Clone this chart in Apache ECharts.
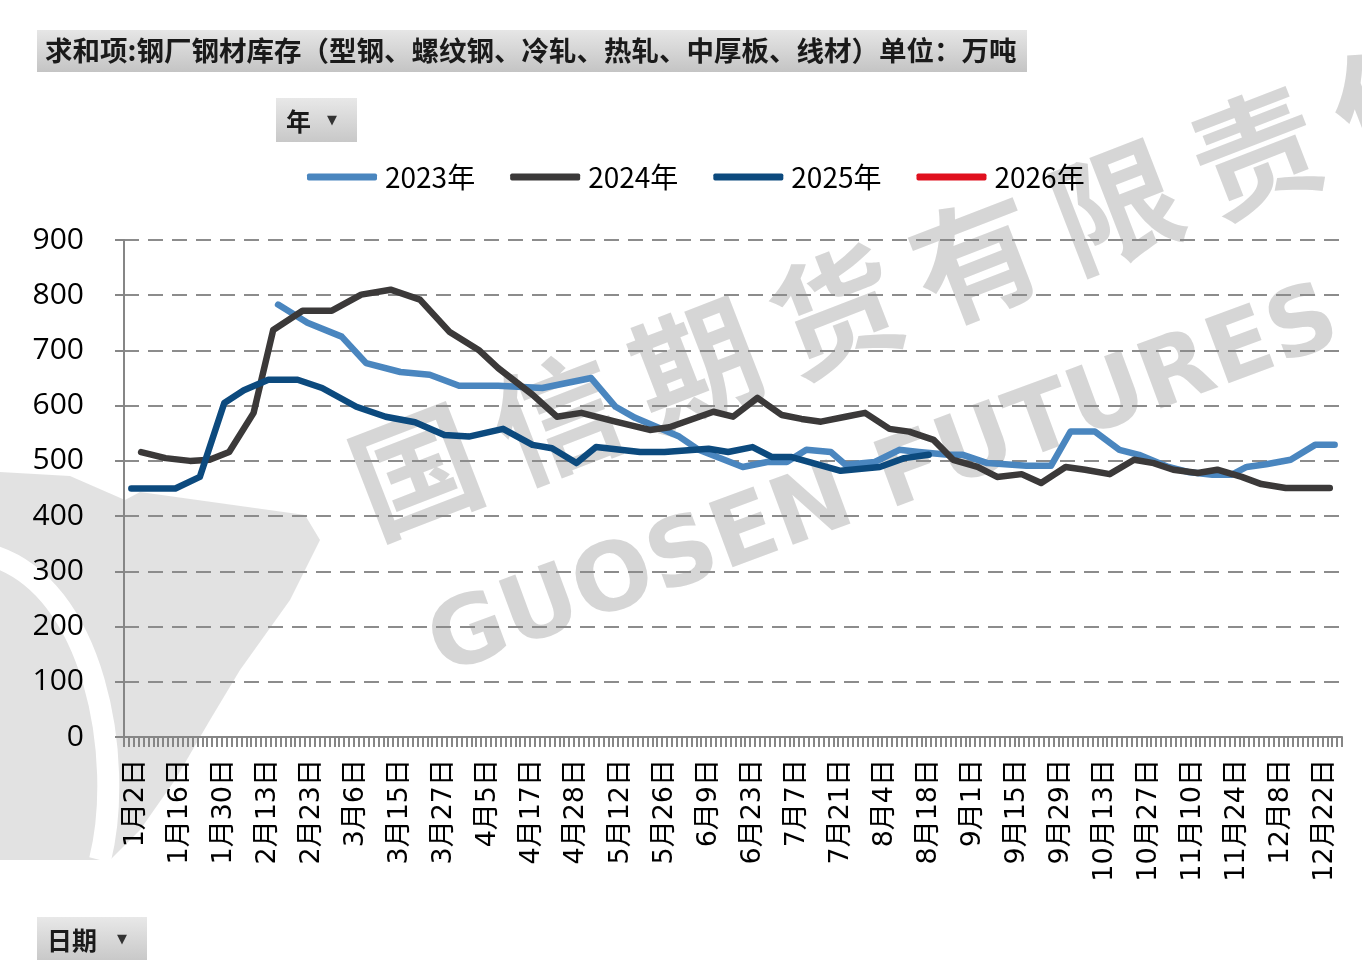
<!DOCTYPE html>
<html>
<head>
<meta charset="utf-8">
<title>钢厂钢材库存</title>
<script src="https://cdn.jsdelivr.net/npm/echarts@6/dist/echarts.min.js"></script>
<style>
  html, body { margin: 0; padding: 0; background: #fff; }
  #my_chart { width: 1362px; height: 960px; }
</style>
</head>
<body>
<div id="my_chart"></div>
<script>
// 横轴：每 9 个日期显示一个标签，前面还有 2 个未标注的日期
var dateLabels = ['1月2日', '1月16日', '1月30日', '2月13日', '2月23日', '3月6日', '3月15日', '3月27日',
    '4月5日', '4月17日', '4月28日', '5月12日', '5月26日', '6月9日', '6月23日', '7月7日', '7月21日',
    '8月4日', '8月18日', '9月1日', '9月15日', '9月29日', '10月13日', '10月27日', '11月10日',
    '11月24日', '12月8日', '12月22日'];
var catCount = 249;
var labelStart = 2;
var labelStep = 9;

var yTicks = [0, 100, 200, 300, 400, 500, 600, 700, 800, 900];
var seriesNames = ['2023年', '2024年', '2025年', '2026年'];

// [日期序号, 万吨]
var data2023 = [[31, 783], [37, 750], [44, 725], [49, 677], [56, 661], [62, 656], [68, 636], [76, 636],
    [85, 632], [95, 650], [100, 598], [104, 578], [113, 544], [117, 520], [126, 489], [131, 498],
    [135, 498], [139, 520], [144, 516], [147, 493], [153, 498], [158, 520], [162, 516], [168, 511],
    [171, 511], [176, 496], [184, 491], [189, 491], [193, 553], [198, 553], [203, 520], [207, 511],
    [213, 489], [217, 480], [222, 475], [226, 475], [229, 489], [233, 494], [238, 502], [243, 529],
    [247, 529]];
var data2024 = [[3, 516], [8, 505], [13, 500], [17, 502], [21, 516], [26, 587], [30, 737], [36, 772],
    [42, 772], [48, 801], [54, 810], [60, 792], [66, 734], [72, 701], [76, 668], [83, 620], [88, 580],
    [93, 587], [100, 571], [107, 556], [111, 561], [120, 589], [124, 580], [129, 614], [134, 583],
    [138, 576], [142, 571], [147, 580], [151, 587], [156, 558], [160, 553], [165, 538], [169, 502],
    [174, 489], [178, 471], [183, 476], [187, 460], [192, 489], [196, 484], [201, 476], [206, 502],
    [210, 496], [214, 484], [219, 478], [223, 484], [228, 471], [232, 458], [237, 451], [241, 451],
    [246, 451]];
var data2025 = [[1, 450], [5, 450], [10, 450], [15, 471], [20, 605], [24, 628], [29, 647], [35, 647],
    [40, 632], [47, 598], [53, 580], [59, 570], [65, 547], [70, 544], [77, 558], [83, 529], [87, 523],
    [92, 496], [96, 525], [105, 516], [110, 516], [119, 522], [123, 516], [128, 525], [132, 507],
    [136, 507], [146, 482], [154, 489], [159, 505], [164, 511]];
var data2026 = [];

var seriesColors = ['#4a86bf', '#3b3939', '#0c4a7e', '#e0101e'];
var markText = '国信期货有限责任';

(function () {
    var cats = [];
    for (var i = 0; i < catCount; i++) {
        cats.push('');
    }
    for (var k = 0; k < dateLabels.length; k++) {
        cats[labelStart + k * labelStep] = dateLabels[k];
    }

    var allData = [data2023, data2024, data2025, data2026];
    var series = [];
    for (var s = 0; s < seriesNames.length; s++) {
        series.push({
            name: seriesNames[s],
            type: 'line',
            data: allData[s],
            showSymbol: false,
            symbol: 'none',
            smooth: false,
            lineStyle: { width: 6.5, color: seriesColors[s], cap: 'round', join: 'round' },
            itemStyle: { color: seriesColors[s] },
            z: 3 + s
        });
    }

    var markFill = 'rgba(140,140,140,0.36)';
    // 背景水印、左下角标志
    var graphic = [
        {
            type: 'polygon', z: -20, silent: true,
            shape: {
                points: [[0, 472], [70, 476], [125, 500], [140, 492], [305, 515], [320, 540], [290, 600],
                    [240, 670], [210, 720], [175, 780], [140, 830], [110, 860], [0, 860]]
            },
            style: { fill: 'rgba(140,140,140,0.25)' }
        },
        {
            type: 'bezierCurve', z: -19, silent: true,
            shape: { x1: -10, y1: 555, cpx1: 95, cpy1: 585, cpx2: 125, cpy2: 760, x2: 100, y2: 860 },
            style: { fill: null, stroke: '#ffffff', lineWidth: 22 }
        },
        {
            type: 'text', x: 450, y: 696, rotation: 0.355, z: -10, silent: true,
            style: {
                text: 'GUOSEN FUTURES', fill: markFill,
                font: 'bold 94px "DejaVu Sans"', textVerticalAlign: 'bottom'
            }
        }
    ];
    for (var c = 0; c < markText.length; c++) {
        graphic.push({
            type: 'text', x: 380 + c * 140, y: 552 - c * 53, rotation: 0.37, z: -10, silent: true,
            style: {
                text: markText.charAt(c), fill: markFill,
                font: 'bold 126px "Noto Sans CJK SC"', textVerticalAlign: 'bottom'
            }
        });
    }
    graphic.push(
        // 标题框
        {
            type: 'rect', x: 37, y: 30, z: 10,
            shape: { width: 990, height: 42 },
            style: {
                fill: new echarts.graphic.LinearGradient(0, 0, 0, 1, [
                    { offset: 0, color: '#e6e6e6' }, { offset: 1, color: '#c4c4c4' }
                ])
            }
        },
        {
            type: 'text', x: 45, y: 51, z: 11,
            style: {
                text: '求和项:钢厂钢材库存（型钢、螺纹钢、冷轧、热轧、中厚板、线材）单位：万吨',
                font: 'bold 27.5px "Noto Sans CJK SC"', fill: '#1a1a1a', textVerticalAlign: 'middle'
            }
        },
        {
            type: 'rect', x: 276, y: 98, z: 10,
            shape: { width: 81, height: 44 },
            style: {
                fill: new echarts.graphic.LinearGradient(0, 0, 0, 1, [
                    { offset: 0, color: '#e8e8e8' }, { offset: 1, color: '#c8c8c8' }
                ])
            }
        },
        {
            type: 'text', x: 286, y: 121, z: 11,
            style: { text: '年', font: 'bold 25px "Noto Sans CJK SC"', fill: '#1a1a1a', textVerticalAlign: 'middle' }
        },
        {
            type: 'text', x: 327, y: 121, z: 11,
            style: { text: '▼', font: '13px "DejaVu Sans"', fill: '#333', textVerticalAlign: 'middle' }
        },
        {
            type: 'rect', x: 37, y: 917, z: 10,
            shape: { width: 110, height: 44 },
            style: {
                fill: new echarts.graphic.LinearGradient(0, 0, 0, 1, [
                    { offset: 0, color: '#e8e8e8' }, { offset: 1, color: '#c8c8c8' }
                ])
            }
        },
        {
            type: 'text', x: 47, y: 940, z: 11,
            style: { text: '日期', font: 'bold 25px "Noto Sans CJK SC"', fill: '#1a1a1a', textVerticalAlign: 'middle' }
        },
        {
            type: 'text', x: 117, y: 940, z: 11,
            style: { text: '▼', font: '13px "DejaVu Sans"', fill: '#333', textVerticalAlign: 'middle' }
        }
    );

    var myChart = echarts.init(document.getElementById('my_chart'), null, { renderer: 'canvas' });
    var option = {
        backgroundColor: '#ffffff',
        animation: false,
        textStyle: { fontFamily: '"Noto Sans CJK SC", "Noto Sans", sans-serif' },
        graphic: graphic,
        legend: {
            data: seriesNames,
            top: 158,
            left: 302,
            itemWidth: 70,
            itemHeight: 7,
            itemGap: 35,
            icon: 'roundRect',
            textStyle: { fontSize: 28, color: '#000', fontFamily: '"Noto Sans CJK SC"', padding: [0, 0, 0, 3] }
        },
        grid: { left: 124, right: 20, top: 240, bottom: 223, containLabel: false },
        xAxis: {
            type: 'category',
            data: cats,
            boundaryGap: true,
            axisLine: { show: true, lineStyle: { color: '#868686', width: 2 } },
            axisTick: { show: true, interval: 0, length: 10, lineStyle: { color: '#868686', width: 2 } },
            axisLabel: {
                interval: 0, rotate: 90, margin: 22, fontSize: 27, color: '#000',
                fontFamily: '"DejaVu Sans", "Noto Sans CJK SC"'
            },
            splitLine: { show: false }
        },
        yAxis: {
            type: 'value',
            min: yTicks[0],
            max: yTicks[yTicks.length - 1],
            interval: 100,
            axisLine: { show: true, lineStyle: { color: '#868686', width: 2 } },
            axisTick: { show: true, length: 9, lineStyle: { color: '#868686', width: 2 } },
            axisLabel: { fontSize: 30, color: '#000', margin: 40, fontFamily: '"Open Sans", sans-serif' },
            splitLine: { show: true, lineStyle: { color: '#8c8c8c', width: 2, type: [15, 9] } }
        },
        series: series
    };
    myChart.setOption(option, true);
})();
</script>
</body>
</html>
